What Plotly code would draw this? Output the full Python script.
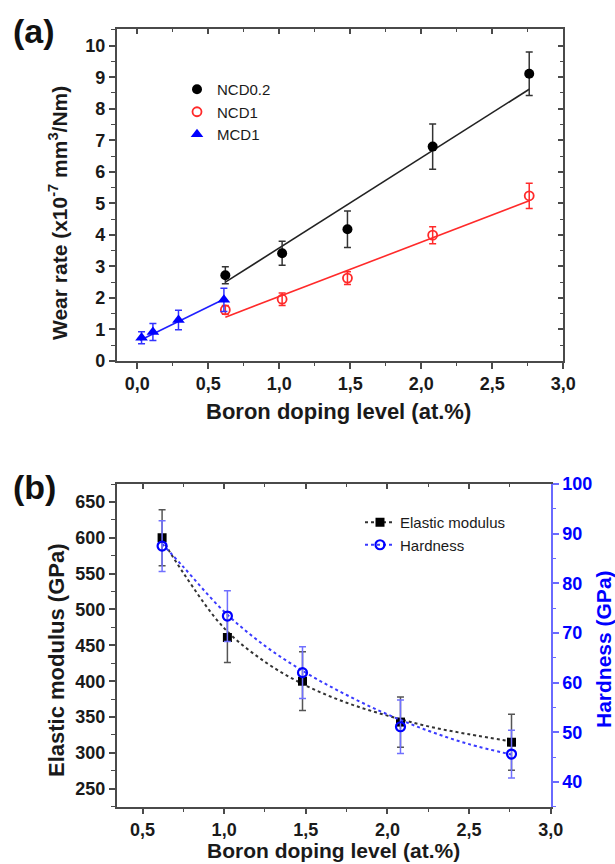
import plotly.graph_objects as go

# ---------------- Panel (a) data ----------------
ncd02_x = [0.62, 1.02, 1.48, 2.08, 2.76]
ncd02_y = [2.72, 3.42, 4.18, 6.80, 9.11]
ncd02_err = [0.27, 0.38, 0.58, 0.72, 0.69]
ncd02_fit_x = [0.62, 2.76]
ncd02_fit_y = [2.50, 8.62]

ncd1_x = [0.62, 1.02, 1.48, 2.08, 2.76]
ncd1_y = [1.62, 1.96, 2.63, 3.99, 5.24]
ncd1_err = [0.14, 0.20, 0.20, 0.27, 0.40]
ncd1_fit_x = [0.62, 2.76]
ncd1_fit_y = [1.39, 5.08]

mcd1_x = [0.03, 0.11, 0.29, 0.61]
mcd1_y = [0.74, 0.92, 1.30, 1.94]
mcd1_err = [0.19, 0.27, 0.31, 0.37]
mcd1_fit_x = [0.02, 0.62]
mcd1_fit_y = [0.66, 1.98]

xa_tickvals = [0.0, 0.5, 1.0, 1.5, 2.0, 2.5, 3.0]
xa_ticktext = ["0,0", "0,5", "1,0", "1,5", "2,0", "2,5", "3,0"]
ya_tickvals = [0, 1, 2, 3, 4, 5, 6, 7, 8, 9, 10]
ya_ticktext = ["0", "1", "2", "3", "4", "5", "6", "7", "8", "9", "10"]

# ---------------- Panel (b) data ----------------
ela_x = [0.62, 1.02, 1.48, 2.08, 2.76]
ela_y = [600, 461, 400, 343, 315]
ela_err = [39, 35, 41, 35, 39]
ela_fit_x = [0.62, 0.75, 1.0, 1.25, 1.5, 1.75, 2.0, 2.25, 2.5, 2.76]
ela_fit_y = [598, 551, 474, 427, 394, 370, 352, 337, 326, 316]

hard_x = [0.62, 1.02, 1.48, 2.08, 2.76]
hard_y = [87.5, 73.4, 62.0, 51.1, 45.6]
hard_err = [5.1, 5.1, 5.2, 5.4, 4.8]
hard_fit_x = [0.62, 0.75, 1.0, 1.25, 1.5, 1.75, 2.0, 2.25, 2.5, 2.76]
hard_fit_y = [88.0, 83.3, 74.3, 67.4, 62.0, 57.5, 53.6, 50.3, 47.6, 45.5]

xb_tickvals = [0.5, 1.0, 1.5, 2.0, 2.5, 3.0]
xb_ticktext = ["0,5", "1,0", "1,5", "2,0", "2,5", "3,0"]
yb_tickvals = [250, 300, 350, 400, 450, 500, 550, 600, 650]
yb_ticktext = [str(v) for v in yb_tickvals]
yr_tickvals = [40, 50, 60, 70, 80, 90, 100]
yr_ticktext = [str(v) for v in yr_tickvals]

FONT = "Liberation Sans, Arial, sans-serif"
AX = "#4a4a4a"
TXT = "#1a1a1a"
BLUE = "#0000ff"
RED = "#ff2a2a"

W, H = 615, 864
def px_x(p):
    return p / W
def px_y(p):
    return 1 - p / H

dom_ax = [px_x(116.7), px_x(563.3)]
dom_ay = [px_y(361.0), px_y(29.3)]
dom_bx = [px_x(116.7), px_x(550.7)]
dom_by = [px_y(806.7), px_y(484.0)]

fig = go.Figure()

# ---- panel (a) traces ----
fig.add_trace(go.Scatter(x=ncd02_fit_x, y=ncd02_fit_y, mode="lines",
                         line=dict(color="#222222", width=1.6), showlegend=False,
                         xaxis="x", yaxis="y"))
fig.add_trace(go.Scatter(x=ncd1_fit_x, y=ncd1_fit_y, mode="lines",
                         line=dict(color=RED, width=1.6), showlegend=False,
                         xaxis="x", yaxis="y"))
fig.add_trace(go.Scatter(x=mcd1_fit_x, y=mcd1_fit_y, mode="lines",
                         line=dict(color="#2020ff", width=1.6), showlegend=False,
                         xaxis="x", yaxis="y"))
fig.add_trace(go.Scatter(x=ncd02_x, y=ncd02_y, mode="markers", name="NCD0.2",
                         marker=dict(symbol="circle", size=10, color="#000000"),
                         error_y=dict(type="data", array=ncd02_err, color="#333333",
                                      thickness=1.5, width=3.5),
                         xaxis="x", yaxis="y", legend="legend"))
fig.add_trace(go.Scatter(x=ncd1_x, y=ncd1_y, mode="markers", name="NCD1",
                         marker=dict(symbol="circle-open", size=9, color=RED,
                                     line=dict(width=1.8, color=RED)),
                         error_y=dict(type="data", array=ncd1_err, color=RED,
                                      thickness=1.5, width=3.5),
                         xaxis="x", yaxis="y", legend="legend"))
fig.add_trace(go.Scatter(x=mcd1_x, y=mcd1_y, mode="markers", name="MCD1",
                         marker=dict(symbol="triangle-up", size=11, color=BLUE),
                         error_y=dict(type="data", array=mcd1_err, color="#3333ff",
                                      thickness=1.5, width=3.5),
                         xaxis="x", yaxis="y", legend="legend"))

# ---- panel (b) traces ----
fig.add_trace(go.Scatter(x=ela_fit_x, y=ela_fit_y, mode="lines", line_shape="spline",
                         line=dict(color="#333333", width=2, dash="dot"), showlegend=False,
                         xaxis="x2", yaxis="y2"))
fig.add_trace(go.Scatter(x=hard_fit_x, y=hard_fit_y, mode="lines", line_shape="spline",
                         line=dict(color="#3a3aff", width=2, dash="dot"), showlegend=False,
                         xaxis="x2", yaxis="y4"))
fig.add_trace(go.Scatter(x=ela_x, y=ela_y, mode="markers", name="Elastic modulus",
                         marker=dict(symbol="square", size=9, color="#000000"),
                         error_y=dict(type="data", array=ela_err, color="#555555",
                                      thickness=1.5, width=3.5),
                         xaxis="x2", yaxis="y2", showlegend=False))
fig.add_trace(go.Scatter(x=hard_x, y=hard_y, mode="markers", name="Hardness",
                         marker=dict(symbol="circle-open", size=9, color=BLUE,
                                     line=dict(width=2.2, color=BLUE)),
                         error_y=dict(type="data", array=hard_err, color="#7070ff",
                                      thickness=1.5, width=3.5),
                         xaxis="x2", yaxis="y4", showlegend=False))
# legend samples (dotted line + marker) for panel (b)
fig.add_trace(go.Scatter(x=[None], y=[None], mode="lines+markers", name="Elastic modulus",
                         line=dict(color="#333333", width=2, dash="dot"),
                         marker=dict(symbol="square", size=9, color="#000000"),
                         xaxis="x2", yaxis="y2", legend="legend2", hoverinfo="skip"))
fig.add_trace(go.Scatter(x=[None], y=[None], mode="lines+markers", name="Hardness",
                         line=dict(color="#3a3aff", width=2, dash="dot"),
                         marker=dict(symbol="circle-open", size=9, color=BLUE,
                                     line=dict(width=2.2, color=BLUE)),
                         xaxis="x2", yaxis="y4", legend="legend2", hoverinfo="skip"))

# dummy traces so mirrored frame axes render
fig.add_trace(go.Scatter(x=[None], y=[None], xaxis="x3", yaxis="y3", showlegend=False, hoverinfo="skip"))
fig.add_trace(go.Scatter(x=[None], y=[None], xaxis="x5", yaxis="y2", showlegend=False, hoverinfo="skip"))

tickfont = dict(family=FONT, size=18, color=TXT, weight="bold")

common = dict(showgrid=False, zeroline=False, showline=True, linecolor=AX, linewidth=1.5,
              tickcolor=AX, tickwidth=1.5, automargin=False)

fig.update_layout(
    width=W, height=H,
    margin=dict(l=0, r=0, t=0, b=0),
    paper_bgcolor="white", plot_bgcolor="white",
    font=dict(family=FONT, color=TXT),
    showlegend=True,
    xaxis=dict(domain=dom_ax, anchor="y", range=[-0.145, 3.0], tickmode="array",
               tickvals=xa_tickvals, ticktext=xa_ticktext, ticks="outside", ticklen=6,
               tickfont=tickfont,
               minor=dict(dtick=0.25, tick0=0, ticks="outside", ticklen=3.5, tickcolor=AX, tickwidth=1.2),
               **common),
    yaxis=dict(domain=dom_ay, anchor="x", range=[0, 10.52], tickmode="array",
               tickvals=ya_tickvals, ticktext=ya_ticktext, ticks="outside", ticklen=6,
               tickfont=tickfont,
               minor=dict(dtick=0.5, tick0=0, ticks="outside", ticklen=3.5, tickcolor=AX, tickwidth=1.2),
               **common),
    xaxis3=dict(domain=dom_ax, anchor="y", overlaying="x", side="top", range=[-0.145, 3.0],
                tickmode="array", tickvals=xa_tickvals, ticks="inside", ticklen=5,
                showticklabels=False,
                minor=dict(dtick=0.25, tick0=0, ticks="inside", ticklen=3, tickcolor=AX, tickwidth=1.2),
                **common),
    yaxis3=dict(domain=dom_ay, anchor="x", overlaying="y", side="right", range=[0, 10.52],
                tickmode="array", tickvals=ya_tickvals, ticks="inside", ticklen=6,
                showticklabels=False,
                minor=dict(dtick=0.5, tick0=0, ticks="inside", ticklen=3.5, tickcolor=AX, tickwidth=1.2),
                **common),
    xaxis2=dict(domain=dom_bx, anchor="y2", range=[0.342, 3.0], tickmode="array",
                tickvals=xb_tickvals, ticktext=xb_ticktext, ticks="outside", ticklen=6,
                tickfont=tickfont,
                minor=dict(dtick=0.25, tick0=0, ticks="outside", ticklen=3.5, tickcolor=AX, tickwidth=1.2),
                **common),
    xaxis5=dict(domain=dom_bx, anchor="y2", overlaying="x2", side="top", range=[0.342, 3.0],
                tickmode="array", tickvals=xb_tickvals, ticks="inside", ticklen=5,
                showticklabels=False,
                minor=dict(dtick=0.25, tick0=0, ticks="inside", ticklen=3, tickcolor=AX, tickwidth=1.2),
                **common),
    yaxis2=dict(domain=dom_by, anchor="x2", range=[225, 675], tickmode="array",
                tickvals=yb_tickvals, ticktext=yb_ticktext, ticks="outside", ticklen=6,
                tickfont=tickfont,
                minor=dict(dtick=25, tick0=0, ticks="outside", ticklen=3.5, tickcolor=AX, tickwidth=1.2),
                **common),
    yaxis4=dict(domain=dom_by, anchor="x2", overlaying="y2", side="right", range=[35, 100],
                tickmode="array", tickvals=yr_tickvals, ticktext=yr_ticktext,
                ticks="outside", ticklen=6,
                tickfont=dict(family=FONT, size=18, color=BLUE, weight="bold"),
                minor=dict(dtick=5, tick0=0, ticks="outside", ticklen=3.5, tickcolor="#6a6aff", tickwidth=1.2),
                showgrid=False, zeroline=False, showline=True, linecolor="#6a6aff", linewidth=1.8,
                tickcolor="#6a6aff", tickwidth=1.5, automargin=False),
    legend=dict(x=px_x(177), y=px_y(73), xanchor="left", yanchor="top",
                bgcolor="rgba(0,0,0,0)", borderwidth=0,
                font=dict(family=FONT, size=15, color=TXT), tracegroupgap=0, itemwidth=30),
    legend2=dict(x=px_x(360), y=px_y(506), xanchor="left", yanchor="top",
                 bgcolor="rgba(0,0,0,0)", borderwidth=0,
                 font=dict(family=FONT, size=15, color=TXT), tracegroupgap=0, itemwidth=30),
)

ann = [
    dict(text="<b>(a)</b>", x=px_x(11), y=px_y(31), xanchor="left", yanchor="middle",
         font=dict(family=FONT, size=34, color="#111111")),
    dict(text="<b>(b)</b>", x=px_x(11), y=px_y(487), xanchor="left", yanchor="middle",
         font=dict(family=FONT, size=34, color="#111111")),
    dict(text="<b>Boron doping level (at.%)</b>", x=px_x(338.5), y=px_y(411),
         xanchor="center", yanchor="middle", font=dict(family=FONT, size=22, color=TXT)),
    dict(text="<b>Wear rate (x10<sup>-7</sup> mm<sup>3</sup>/Nm)</b>", x=px_x(58), y=px_y(213),
         xanchor="center", yanchor="middle", textangle=-90, font=dict(family=FONT, size=21, color=TXT)),
    dict(text="<b>Boron doping level (at.%)</b>", x=px_x(333.5), y=px_y(850),
         xanchor="center", yanchor="middle", font=dict(family=FONT, size=21, color=TXT)),
    dict(text="<b>Elastic modulus (GPa)</b>", x=px_x(56), y=px_y(660),
         xanchor="center", yanchor="middle", textangle=-90, font=dict(family=FONT, size=22, color=TXT)),
    dict(text="<b>Hardness (GPa)</b>", x=px_x(603), y=px_y(649),
         xanchor="center", yanchor="middle", textangle=-90,
         font=dict(family=FONT, size=21, color=BLUE)),
]
for a in ann:
    a.update(xref="paper", yref="paper", showarrow=False)
fig.update_layout(annotations=ann)

fig.write_html("out.html", config={"displayModeBar": False},
               post_script="document.body.style.margin='0';document.body.style.overflow='hidden';")
